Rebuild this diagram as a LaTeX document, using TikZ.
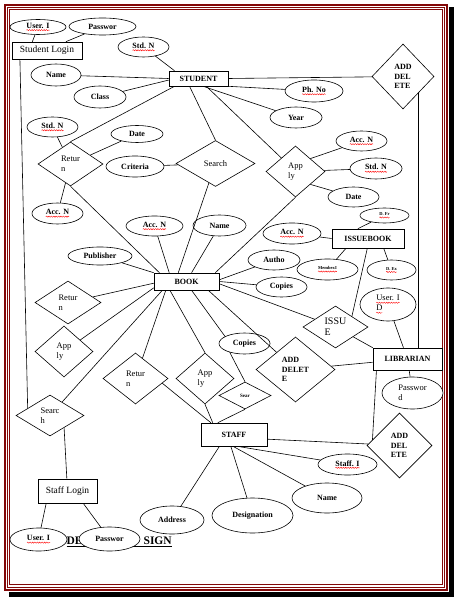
\documentclass[tikz,border=0pt]{standalone}
\usepackage{fontspec}
\setmainfont{Liberation Serif}
\usepackage{tikz}
\usetikzlibrary{calc,positioning,shapes.geometric,decorations.pathmorphing}
\definecolor{brd}{RGB}{130,8,8}
\newcommand{\redsq}[1]{\tikz[baseline=(sq.base)]{\node[shape=rectangle, draw=none, fill=none, inner sep=0pt, outer sep=0pt, minimum width=0pt, minimum height=0pt] (sq) {#1}; \draw[red, line width=0.4pt, fill=none, decorate, decoration={snake, amplitude=0.6pt, segment length=2.4pt}] ([yshift=-1.8pt]sq.base west) -- ([yshift=-1.8pt]sq.base east);}}
\tikzstyle{ent} = [
	rectangle,
	fill = white,
	inner sep = 0pt,
	font = \fontsize{8}{9}\selectfont\bfseries,
	draw
	]
\tikzstyle{attr} = [
	ellipse,
	fill = white,
	inner sep = 0pt,
	font = \fontsize{8}{9}\selectfont\bfseries,
	draw
	]
\tikzstyle{rel} = [
	diamond,
	fill = white,
	inner sep = 0pt,
	align = left,
	font = \fontsize{8.5}{10}\selectfont,
	draw
	]
\tikzstyle{opr} = [
	rel,
	font = \fontsize{8}{9.5}\selectfont\bfseries
	]
\tikzstyle{lnk} = [
	line width = 0.6pt,
	draw
	]
\tikzstyle{frm} = [
	draw = brd
	]
\tikzset{wh/.style 2 args={minimum width=#1, minimum height=#2}}

\begin{document}
\begin{tikzpicture}[x=1pt, y=-1pt, line width=0.6pt]
		\useasboundingbox (0,0) rectangle (461,601);
		\fill[black] (448.5,7) rectangle (454,597);
		\fill[black] (9,592) rectangle (454,597);
		\draw[frm, line width=1.3pt] (5,5) rectangle (447,590);
		\draw[frm, line width=0.8pt] (7.4,7.4) rectangle (444.5,587);
		\draw[frm, line width=0.8pt] (9.6,9.6) rectangle (442,584);
		\node[anchor=base west, font=\fontsize{11.5}{12}\selectfont\bfseries] (ttl) at (63,544.5) {\underline{DE\hspace{61pt}SIGN}};
		\node[attr, wh={56}{15}] (u1) at (38,27) {\redsq{User. I}};
		\node[attr, wh={67}{17}] (p1) at (102.5,26.5) {Passwor};
		\node[ent, wh={70}{17}, font=\fontsize{9.5}{10}\selectfont] (sl) at (47,50.5) {Student Login};
		\node[attr, wh={51}{20}] (sn1) at (143.5,47) {\redsq{Std. N}};
		\node[attr, wh={50}{22}] (nm1) at (56,75) {Name};
		\node[attr, wh={52}{22}] (cl) at (100,97) {Class};
		\node[ent, wh={59}{15}] (stu) at (198.5,78.5) {STUDENT};
		\node[opr, wh={62}{65}] (ad1) at (403,76.5) {ADD\\DEL\\ETE};
		\node[attr, wh={58}{22}] (ph) at (314,91) {\redsq{Ph. No}};
		\node[attr, wh={52}{21}] (yr) at (296,117.5) {Year};
		\node[attr, wh={51}{20}] (sn2) at (52.5,127) {\redsq{Std. N}};
		\node[attr, wh={52}{17}] (dt1) at (137,134) {Date};
		\node[rel, wh={65}{44}] (rt1) at (70.5,164) {Retur\\n};
		\node[attr, wh={58}{21}] (cr) at (135,166.5) {Criteria};
		\node[rel, wh={79}{46}] (se1) at (215.5,163.5) {Search};
		\node[attr, wh={51}{21}] (ac1) at (57.5,213.5) {\redsq{Acc. N}};
		\node[rel, wh={59}{51}] (ap1) at (295.5,171.5) {App\\ly};
		\node[attr, wh={51}{20}] (ac2) at (361.5,141) {\redsq{Acc. N}};
		\node[attr, wh={52}{21}] (sn3) at (376,168.5) {\redsq{Std. N}};
		\node[attr, wh={51}{20}] (dt2) at (353.5,197) {Date};
		\node[attr, wh={49}{15}, font=\fontsize{4.5}{5}\selectfont\bfseries] (df) at (384.5,215.5) {\redsq{D. Fr}};
		\node[ent, wh={72}{19}] (ib) at (368,238.5) {ISSUEBOOK};
		\node[attr, wh={58}{21}] (ac3) at (292,233.5) {\redsq{Acc. N}};
		\node[attr, wh={52}{20}] (au) at (274,260) {Autho};
		\node[attr, wh={61}{21}, font=\fontsize{4.5}{5}\selectfont\bfseries] (mi) at (327.5,269.5) {\redsq{Member.I}};
		\node[attr, wh={49}{20}, font=\fontsize{4.5}{5}\selectfont\bfseries] (dx) at (391.5,270) {\redsq{D. Ex}};
		\node[attr, wh={51}{20}] (cp1) at (281.5,287) {Copies};
		\node[attr, wh={56}{33}, align=left, font=\fontsize{8.5}{10}\selectfont] (ud) at (388,304.5) {\redsq{User. I}\\\redsq{D}};
		\node[rel, wh={65}{42}, font=\fontsize{10}{11}\selectfont] (is) at (335.5,327) {ISSU\\E};
		\node[ent, wh={69}{22}] (lib) at (407.5,359) {LIBRARIAN};
		\node[attr, wh={61}{32}, align=left, font=\fontsize{8.5}{10}\selectfont] (pl) at (412.5,393) {Passwor\\d};
		\node[ent, wh={65}{17}] (bk) at (186.5,281.5) {BOOK};
		\node[attr, wh={64}{18}] (pub) at (100,256) {Publisher};
		\node[attr, wh={57}{20}] (ac4) at (154.5,226) {\redsq{Acc. N}};
		\node[attr, wh={53}{21}] (nm2) at (219.5,225.5) {Name};
		\node[rel, wh={66}{43}] (rt2) at (68,302.5) {Retur\\n};
		\node[rel, wh={58}{51}] (ap2) at (64,351.5) {App\\ly};
		\node[rel, wh={65}{51}] (rt3) at (135.5,378.5) {Retur\\n};
		\node[rel, wh={58}{51}] (ap3) at (205,378.5) {App\\ly};
		\node[attr, wh={51}{21}] (cp2) at (244.5,343.5) {Copies};
		\node[rel, wh={52}{27}, font=\fontsize{5}{6}\selectfont\bfseries] (sr) at (245,395.5) {Sear};
		\node[opr, wh={79}{65}] (ad2) at (295.5,369.5) {ADD\\DELET\\E};
		\node[ent, wh={66}{23}] (stf) at (234,434.5) {STAFF};
		\node[opr, wh={65}{65}] (ad3) at (399.5,445.5) {ADD\\DEL\\ETE};
		\node[attr, wh={59}{21}] (si) at (347.5,464.5) {\redsq{Staff. I}};
		\node[attr, wh={70}{30}] (nm3) at (327,498) {Name};
		\node[attr, wh={81}{35}] (dg) at (252.5,515.5) {Designation};
		\node[attr, wh={64}{28}] (adr) at (172,520) {Address};
		\node[rel, wh={68}{41}] (se2) at (50,415.5) {Searc\\h};
		\node[ent, wh={59}{24}, font=\fontsize{9.5}{10}\selectfont] (fl) at (67.5,491) {Staff Login};
		\node[attr, wh={57}{23}] (u2) at (38.5,539.5) {\redsq{User. I}};
		\node[attr, wh={61}{24}] (p2) at (109.5,539) {Passwor};
		\draw[lnk] (u1) -- (sl.149);
		\draw[lnk] (p1) -- (sl.25);
		\draw[lnk] (sl.198) -- (se2.162);
		\draw[lnk] (sn1) -- (stu.162);
		\draw[lnk] (nm1) -- (stu.west);
		\draw[lnk] (cl) -- (stu.183);
		\draw[lnk] (stu.east) -- (ad1);
		\draw[lnk] (stu.south east) -- (ph);
		\draw[lnk] (stu.301) -- (yr);
		\draw[lnk] (stu.315) -- (ap1);
		\draw[lnk] (stu.221) -- (se1.north);
		\draw[lnk] (stu.198) -- (rt1.north);
		\draw[lnk] (sn2) -- (rt1);
		\draw[lnk] (dt1) -- (rt1);
		\draw[lnk] (ac1) -- (rt1);
		\draw[lnk] (cr) -- (se1);
		\draw[lnk] (rt1.south) -- (bk.162);
		\draw[lnk] (se1) -- (bk.133);
		\draw[lnk] (ap1.north east) -- (ac2);
		\draw[lnk] (ap1) -- (sn3);
		\draw[lnk] (ap1.south east) -- (dt2);
		\draw[lnk] (ap1.south) -- (bk.17);
		\draw[lnk] (ib.136) -- (df);
		\draw[lnk] (ib.west) -- (ac3);
		\draw[lnk] (ib.204) -- (mi);
		\draw[lnk] (ib.328) -- (dx);
		\draw[lnk] (ib.266) -- (is.north east);
		\draw[lnk] (ad1.south east) -- (ad1.south east |- lib.north);
		\draw[lnk] (ud) -- (lib);
		\draw[lnk] (is) -- (lib.north west);
		\draw[lnk] (lib) -- (pl);
		\draw[lnk] (lib.200) -- (ad3.168);
		\draw[lnk] (ad2) -- (lib);
		\draw[lnk] (bk.165) -- (pub);
		\draw[lnk] (bk.153) -- (ac4);
		\draw[lnk] (bk.60) -- (nm2);
		\draw[lnk] (bk.3) -- (au);
		\draw[lnk] (bk.east) -- (cp1);
		\draw[lnk] (bk.356) -- (is);
		\draw[lnk] (bk.183) -- (rt2);
		\draw[lnk] (bk.191) -- (ap2);
		\draw[lnk] (bk.200) -- (se2);
		\draw[lnk] (bk.203) -- (rt3);
		\draw[lnk] (bk.208) -- (ap3.north);
		\draw[lnk] (bk.300) -- (cp2.160);
		\draw[lnk] (cp2.211) -- (sr.north);
		\draw[lnk] (bk.338) -- (ad2);
		\draw[lnk] (rt3.350) -- (stf.153);
		\draw[lnk] (ap3.south) -- (stf.151);
		\draw[lnk] (sr.south) -- (stf.144);
		\draw[lnk] (stf.352) -- (ad3);
		\draw[lnk] (stf.285) -- (si);
		\draw[lnk] (stf.265) -- (nm3);
		\draw[lnk] (stf.255) -- (dg);
		\draw[lnk] (stf.219) -- (adr);
		\draw[lnk] (se2.319) -- (fl);
		\draw[lnk] (fl.210) -- (u2);
		\draw[lnk] (fl.322) -- (p2);
	\end{tikzpicture}
\end{document}
